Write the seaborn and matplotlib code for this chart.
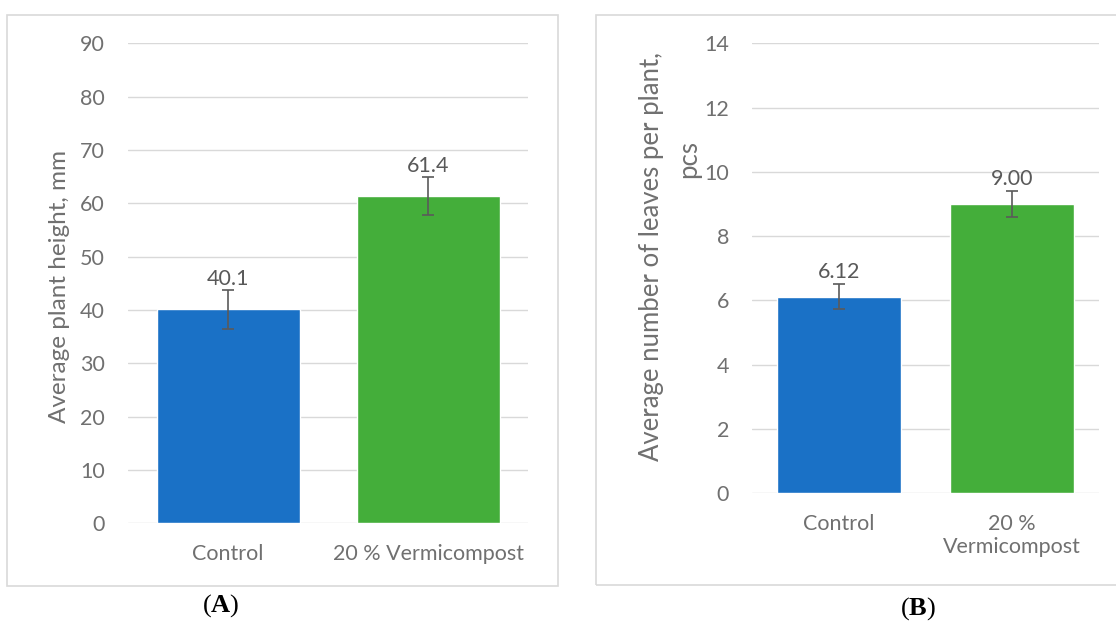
import matplotlib
matplotlib.use("Agg")
import matplotlib.pyplot as plt
from matplotlib.patches import Rectangle
import seaborn as sns
import pandas as pd

# ---- data ----
treatments_a = ["Control", "20 % Vermicompost"]
height_mm = [40.1, 61.4]
height_err = [3.6, 3.6]

treatments_b = ["Control", "20 %\nVermicompost"]
leaves_pcs = [6.12, 9.00]
leaves_err = [0.40, 0.40]

labels_a = ["40.1", "61.4"]
labels_b = ["6.12", "9.00"]

ylabel_a = "Average plant height, mm"
ylabel_b_line1 = "Average number of leaves per plant,"
ylabel_b_line2 = "pcs"

bar_colors = ["#1a71c6", "#44ae3a"]
W, H = 1116, 621

sns.set_theme(style="white")
plt.rcParams["font.family"] = ["Lato", "DejaVu Sans"]
plt.rcParams["mathtext.fontset"] = "custom"
plt.rcParams["mathtext.bf"] = "Liberation Serif:bold"
plt.rcParams["mathtext.rm"] = "Liberation Serif"

TICK_C = "#707070"
LAB_C = "#595959"
GRID_C = "#d9d9d9"
FS = 15.5

fig = plt.figure(figsize=(W / 100, H / 100), dpi=100)
fig.patch.set_facecolor("white")


def px_axes(x0, x1, ytop, ybot):
    return fig.add_axes([x0 / W, 1 - ybot / H, (x1 - x0) / W, (ybot - ytop) / H])


def draw_panel(ax, cats, vals, errs, labels, ymax, ystep, lab_off):
    df = pd.DataFrame({"treatment": cats, "value": vals})
    sns.barplot(data=df, x="treatment", y="value", hue="treatment",
                palette=bar_colors, width=0.715, saturation=1,
                errorbar=None, legend=False, ax=ax, zorder=2)
    ax.errorbar(x=list(range(len(cats))), y=vals, yerr=errs, fmt="none",
                ecolor="#5a5a5a", elinewidth=1.2, capsize=4.2, capthick=1.2,
                zorder=3)
    for i, (v, t) in enumerate(zip(vals, labels)):
        ax.annotate(t, xy=(i, v), xytext=(0, lab_off), textcoords="offset points",
                    ha="center", va="baseline", fontsize=FS, color=LAB_C)
    ax.set_ylim(0, ymax)
    ax.set_xlim(-0.5, len(cats) - 0.5)
    ax.set_yticks([ystep * k for k in range(int(round(ymax / ystep)) + 1)])
    ax.yaxis.grid(True, color=GRID_C, linewidth=1.0)
    ax.set_axisbelow(True)
    for s in ax.spines.values():
        s.set_visible(False)
    ax.tick_params(axis="both", length=0, labelsize=FS, labelcolor=TICK_C)
    ax.tick_params(axis="y", pad=16.5)
    ax.tick_params(axis="x", pad=15)
    ax.set_xlabel("")
    ax.set_facecolor("none")


# Panel A
axA = px_axes(128, 528.3, 43.3, 523.3)
draw_panel(axA, treatments_a, height_mm, height_err, labels_a, 90, 10, 17.5)
axA.set_ylabel(ylabel_a, fontsize=17.5, color=TICK_C, va="center")
axA.yaxis.set_label_coords((59 - 128) / 400.3, (523.3 - 286) / 480)

# Panel B
axB = px_axes(752, 1098.7, 43.3, 493.3)
draw_panel(axB, treatments_b, leaves_pcs, leaves_err, labels_b, 14, 2, 13.7)
axB.set_ylabel(ylabel_b_line1, fontsize=18.5, color=TICK_C, va="center")
axB.yaxis.set_label_coords((652 - 752) / 346.7, (493.3 - 256) / 450)
axB.text((689 - 752) / 346.7, (493.3 - 159) / 450, ylabel_b_line2,
         transform=axB.transAxes, rotation=90, ha="center", va="center",
         fontsize=18.5, color=TICK_C)

# Panel frames
fig.add_artist(Rectangle((7 / W, 1 - 586 / H), 551 / W, 571 / H,
                         transform=fig.transFigure, fill=False,
                         edgecolor=GRID_C, linewidth=1.2))
fig.add_artist(Rectangle((596 / W, 1 - 585 / H), 530 / W, 570 / H,
                         transform=fig.transFigure, fill=False,
                         edgecolor=GRID_C, linewidth=1.2))

fig.text(221 / W, 1 - 606 / H, r"($\mathbf{A}$)", ha="center", va="center",
         fontsize=19, family="Liberation Serif", color="black")
fig.text(918 / W, 1 - 609 / H, r"($\mathbf{B}$)", ha="center", va="center",
         fontsize=19, family="Liberation Serif", color="black")

fig.savefig("out.png", dpi=100, facecolor="white")
